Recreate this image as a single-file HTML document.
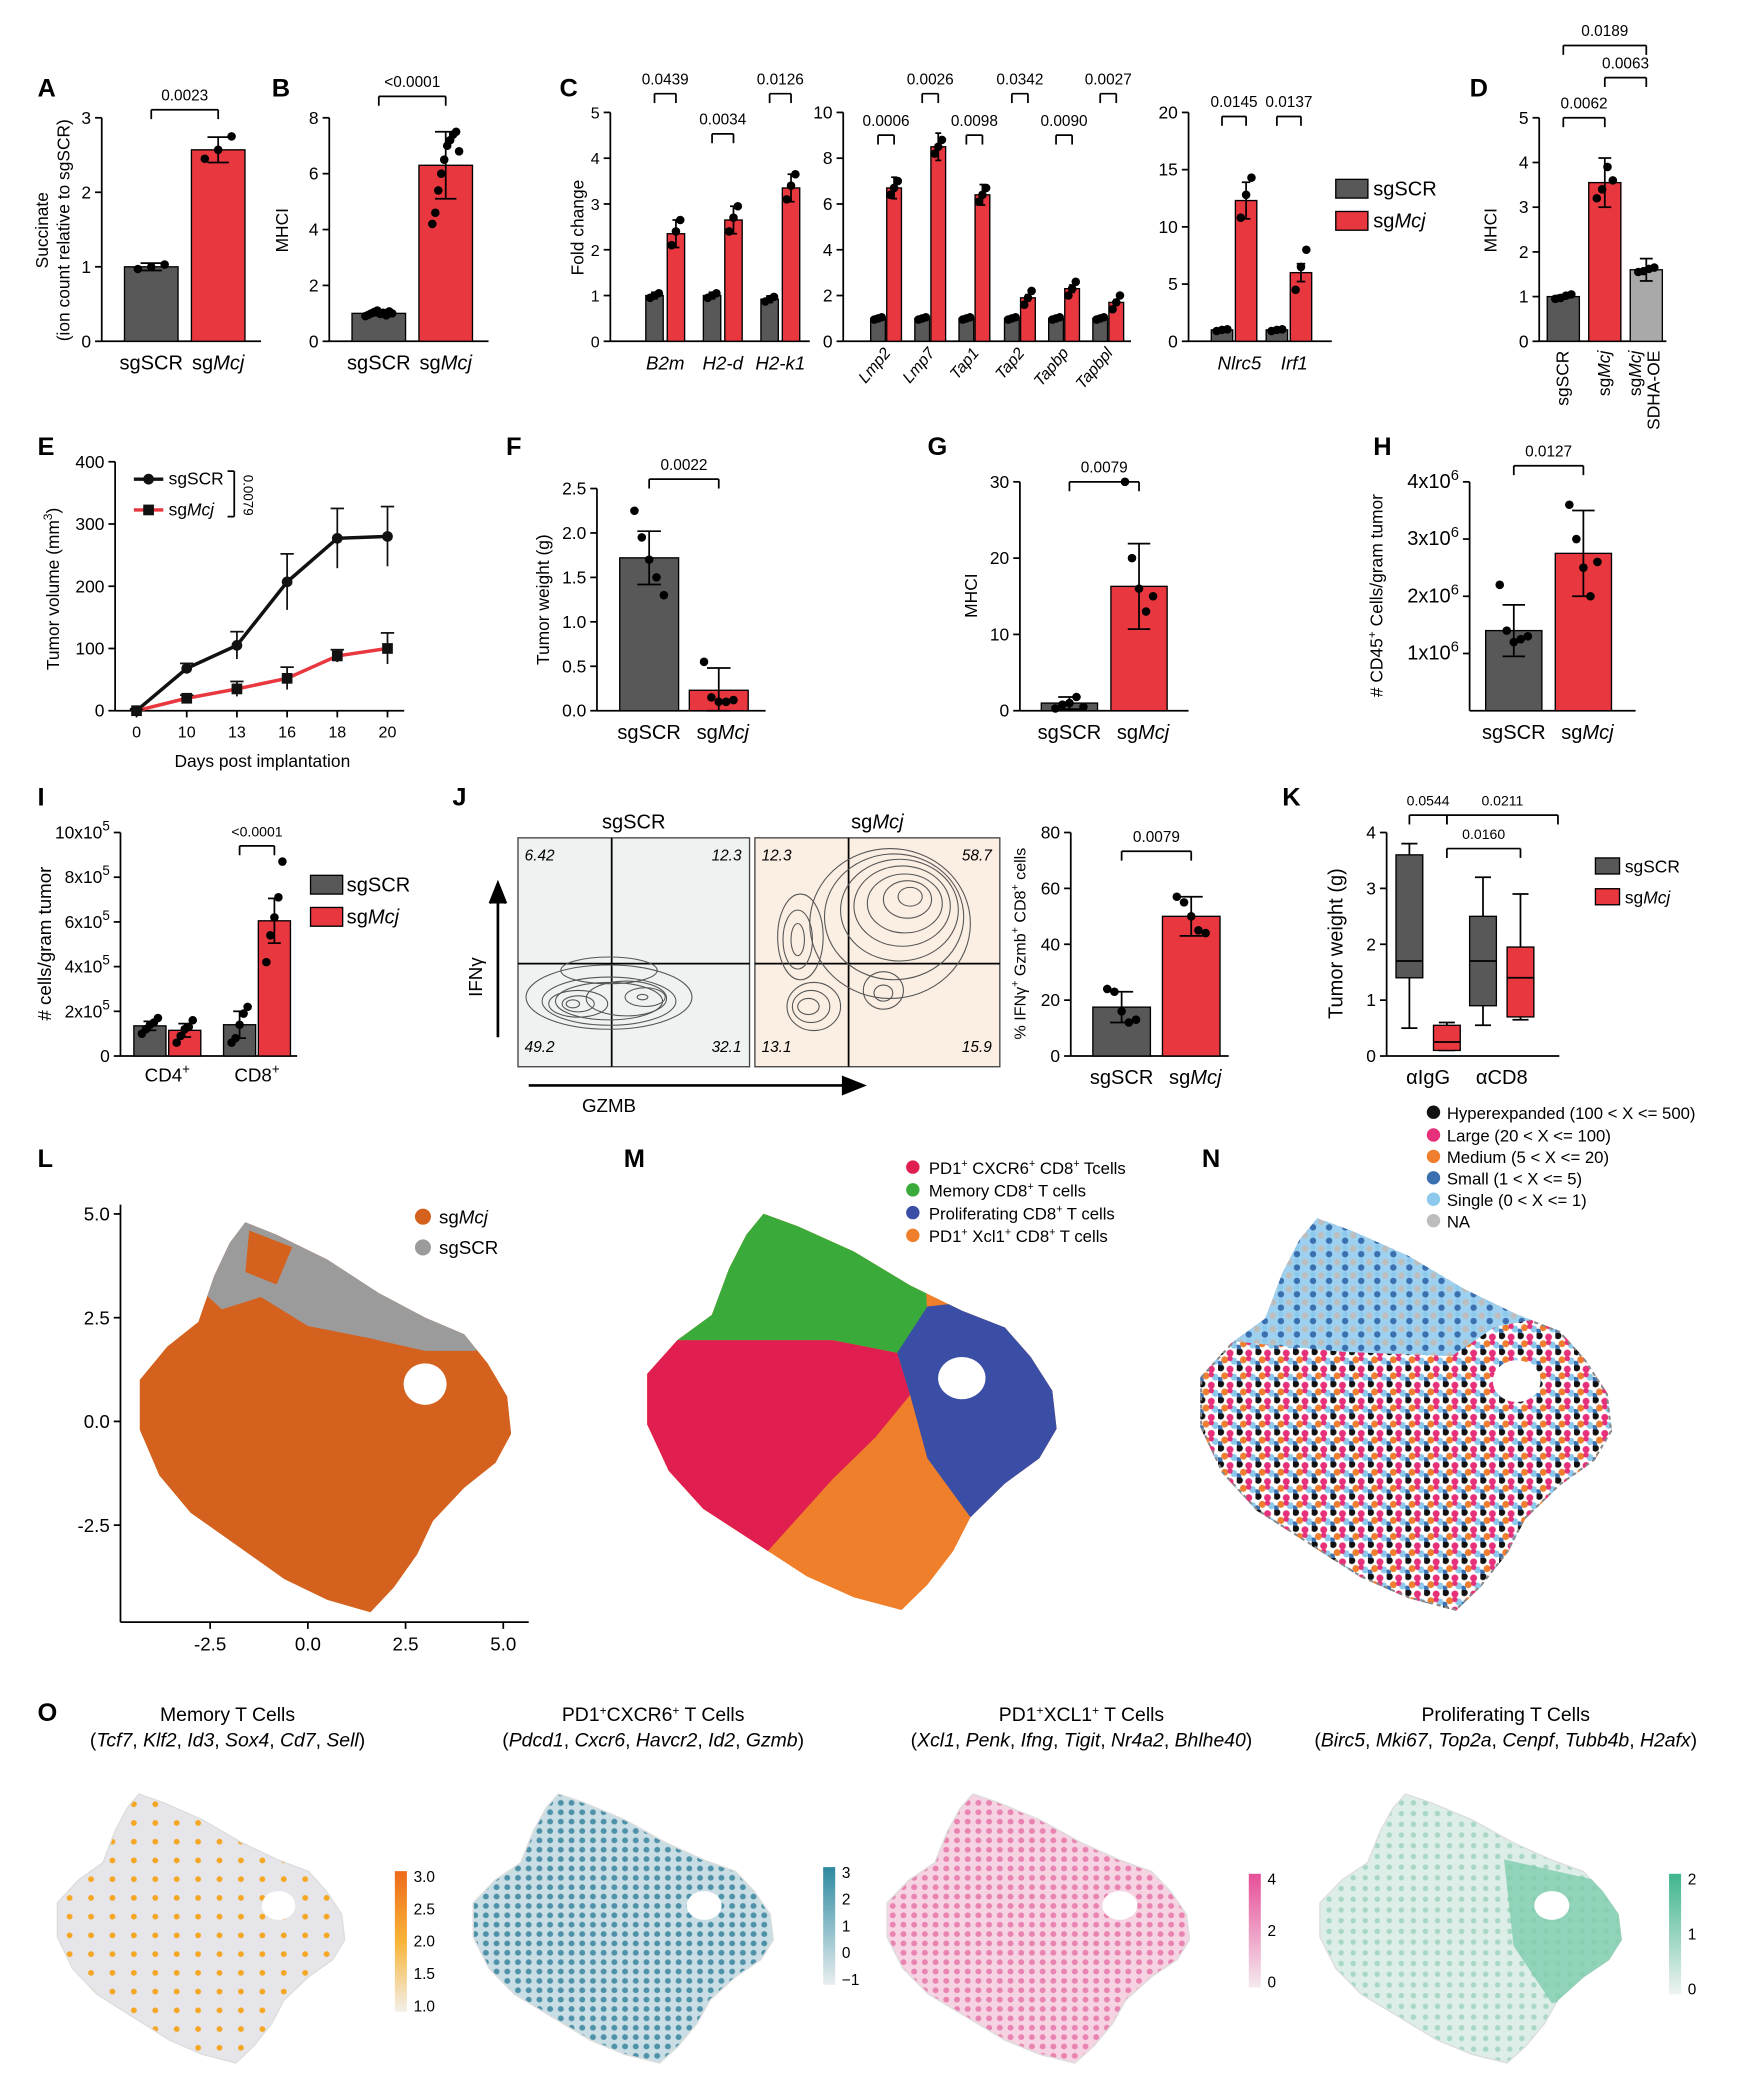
<!DOCTYPE html>
<html><head><meta charset="utf-8"><style>
html,body{margin:0;padding:0;background:#fff}
svg{display:block;font-family:"Liberation Sans",Arial,sans-serif}
</style></head><body>
<svg id="fig" width="1740" height="2100" viewBox="0 0 1300 1569" xmlns="http://www.w3.org/2000/svg">
<defs>
<pattern id="pN" width="14" height="12" patternUnits="userSpaceOnUse">
<circle cx="2" cy="2" r="2.6" fill="#111"/><circle cx="9" cy="3" r="2.6" fill="#e6307a"/><circle cx="5" cy="8" r="2.6" fill="#ef7e2e"/><circle cx="12" cy="9" r="2.6" fill="#8cc9ec"/><circle cx="1" cy="11" r="2.4" fill="#3a6fb0"/><circle cx="9" cy="7" r="2" fill="#e6307a"/>
</pattern>
<pattern id="pNtop" width="12" height="10" patternUnits="userSpaceOnUse">
<rect width="12" height="10" fill="#9dd1ef"/><circle cx="3" cy="3" r="2.4" fill="#bdbdbd"/><circle cx="9" cy="7" r="2.4" fill="#3a6fb0"/><circle cx="9" cy="2" r="2" fill="#8cc9ec"/>
</pattern>
<pattern id="pO1" width="16" height="14" patternUnits="userSpaceOnUse"><rect width="16" height="14" fill="#e6e6ea"/><circle cx="4" cy="4" r="2.2" fill="#f5a623"/></pattern>
<pattern id="pO2" width="8" height="7" patternUnits="userSpaceOnUse"><rect width="8" height="7" fill="#c9dde4"/><circle cx="3" cy="3" r="2.2" fill="#4e92a9"/></pattern>
<pattern id="pO3" width="8" height="7" patternUnits="userSpaceOnUse"><rect width="8" height="7" fill="#f6d3e2"/><circle cx="3" cy="3" r="2.2" fill="#e983b1"/></pattern>
<pattern id="pO4" width="9" height="8" patternUnits="userSpaceOnUse"><rect width="9" height="8" fill="#dceee7"/><circle cx="3" cy="3" r="2" fill="#a8d8c4"/></pattern>
<linearGradient id="gO1" x1="0" y1="1" x2="0" y2="0"><stop offset="0" stop-color="#f3efe8"/><stop offset="0.5" stop-color="#f8b437"/><stop offset="1" stop-color="#ee6a1b"/></linearGradient>
<linearGradient id="gO2" x1="0" y1="1" x2="0" y2="0"><stop offset="0" stop-color="#e8eef0"/><stop offset="1" stop-color="#2d8aa0"/></linearGradient>
<linearGradient id="gO3" x1="0" y1="1" x2="0" y2="0"><stop offset="0" stop-color="#f5e9ef"/><stop offset="1" stop-color="#e64f98"/></linearGradient>
<linearGradient id="gO4" x1="0" y1="1" x2="0" y2="0"><stop offset="0" stop-color="#eef3f1"/><stop offset="1" stop-color="#3fb58d"/></linearGradient>
</defs>
<g id="root"></g>
</svg>
<script>
// ---------- DATA ----------
const aCats=['sgSCR','sgMcj'];const aVals=[1.0,2.57];const aErr=[0.05,0.17];const aPts=[[0.97,1.0,1.03],[2.45,2.57,2.75]];
const bCats=['sgSCR','sgMcj'];const bVals=[1.0,6.3];const bErr=[0.08,1.2];const bPts=[[0.9,0.95,1.0,1.05,1.1,0.98,1.02,0.93,1.07,1.0],[4.2,4.6,5.4,6.0,6.5,7.0,7.2,7.4,7.5,6.8]];
const c1Genes=['B2m','H2-d','H2-k1'];const c1Scr=[1.0,1.0,0.92];const c1Mcj=[2.35,2.65,3.35];const c1P=['0.0439','0.0034','0.0126'];
const c2Genes=['Lmp2','Lmp7','Tap1','Tap2','Tapbp','Tapbpl'];const c2Scr=[1.0,1.0,1.0,1.0,1.0,1.0];const c2Mcj=[6.7,8.5,6.4,1.9,2.3,1.7];const c2P=['0.0006','0.0026','0.0098','0.0342','0.0090','0.0027'];
const c3Genes=['Nlrc5','Irf1'];const c3Scr=[1.0,1.0];const c3Mcj=[12.3,6.0];const c3P=['0.0145','0.0137'];
const dVals=[1.0,3.55,1.6];const dErr=[0.03,0.55,0.25];
const eDays=['0','10','13','16','18','20'];const eScr=[0,68,105,207,277,280];const eScrErr=[3,8,22,45,48,48];const eMcj=[0,20,35,52,88,100];const eMcjErr=[2,5,12,18,10,25];
const fVals=[1.72,0.23];const fErr=[0.3,0.25];const fPts=[[2.25,1.95,1.7,1.5,1.3],[0.55,0.15,0.1,0.1,0.12]];
const gVals=[1.0,16.3];const gErr=[0.8,5.6];const gPts=[[0.3,0.8,1.0,1.8,0.5],[30,20,16,13,15]];
const hVals=[1.4,2.75];const hErr=[0.45,0.75];const hPts=[[2.2,1.4,1.2,1.25,1.3],[3.6,3.0,2.5,2.0,2.6]];
const iGroups=['CD4','CD8'];const iScr=[1.35,1.4];const iMcj=[1.15,6.05];const iScrErr=[0.2,0.6];const iMcjErr=[0.3,1.0];
const jVals=[17.5,50];const jErr=[5.5,7];const jPts=[[24,23,16,12,13],[57,55,50,45,44]];
const kGroups=['αIgG','αCD8'];const kScr=[[0.5,1.4,1.7,3.6,3.8],[0.55,0.9,1.7,2.5,3.2]];const kMcj=[[0.1,0.1,0.25,0.55,0.6],[0.65,0.7,1.4,1.95,2.9]];
// ---------- HELPERS ----------
const NS='http://www.w3.org/2000/svg';const root=document.getElementById('root');
function mk(tag,at,parent){const e=document.createElementNS(NS,tag);for(const k in at)e.setAttribute(k,at[k]);(parent||root).appendChild(e);return e;}
function txt(x,y,s,size,name,opt){opt=opt||{};const t=mk('text',{x:x,y:y,'font-size':size,'text-anchor':opt.anchor||'middle',fill:'#000'});if(opt.bold)t.setAttribute('font-weight','bold');if(opt.italic)t.setAttribute('font-style','italic');if(opt.rot!==undefined)t.setAttribute('transform','rotate('+opt.rot+' '+x+' '+y+')');t.innerHTML=s;


return t;}
function line(x1,y1,x2,y2,name,w,c){const l=mk('line',{x1:x1,y1:y1,x2:x2,y2:y2,stroke:c||'#000','stroke-width':w||1.3});


return l;}
function axes(p,name){const ys=v=>p.y0-(v/p.vmax)*(p.y0-p.yt);
line(p.ax,p.y0,p.ax,p.yt,name+'-y-axis');
line(p.ax,p.y0,p.xe,p.y0,name+'-x-axis');
p.ticks.forEach((v,i)=>{line(p.ax-5,ys(v),p.ax,ys(v),name+'-y-tick');txt(p.ax-8,ys(v)+4.5,p.labels?p.labels[i]:String(v),p.fs||13,name+'-y-tick-label',{anchor:'end'});});return ys;}
function bar(ys,cx,w,v,color,err,pts,name){const r=mk('rect',{x:cx-w/2,y:ys(v),width:w,height:ys(0)-ys(v),fill:color,stroke:'#000','stroke-width':1});


if(err){line(cx,ys(v+err),cx,ys(Math.max(0,v-err)),name+'-error-bar');line(cx-w*0.2,ys(v+err),cx+w*0.2,ys(v+err),name+'-error-cap');line(cx-w*0.2,ys(Math.max(0,v-err)),cx+w*0.2,ys(Math.max(0,v-err)),name+'-error-cap');}
if(pts)pts.forEach((pv,i)=>{const n=pts.length;const dx=n>1?(i-(n-1)/2)*(w*0.5/(n-1)):0;const c=mk('circle',{cx:cx+dx,cy:ys(pv),r:3.2,fill:'#000'});

});}
function bracket(x1,x2,y,lab,name,fs){line(x1,y,x2,y,name);line(x1,y,x1,y+7,name+'-tick');line(x2,y,x2,y+7,name+'-tick');txt((x1+x2)/2,y-7,lab,fs||11.5,name+'-p-value');}
const RED='#e8373e',GRAY='#585858',LG='#a9a9a9';
const IT=s=>'<tspan font-style="italic">'+s+'</tspan>';
// ---------- PANEL LETTERS ----------
[['A',28,72],['B',203,72],['C',418,72],['D',1098,72],['E',28,340],['F',378,340],['G',693,340],['H',1026,340],['I',28,602],['J',338,602],['K',958,602],['L',28,872],['M',466,872],['N',898,872],['O',28,1286]].forEach(l=>txt(l[1],l[2],l[0],19,'panel-label-'+l[0].toLowerCase(),{bold:true,anchor:'start'}));
// ---------- A ----------
{const p={ax:76,y0:255,yt:88,xe:195,vmax:3,ticks:[0,1,2,3]};const ys=axes(p,'panel-a');
const cx=[113,163];aCats.forEach((c,i)=>bar(ys,cx[i],40,aVals[i],i?RED:GRAY,aErr[i],aPts[i],'panel-a-bar-'+c.toLowerCase()));
txt(113,276,'sgSCR',15,'panel-a-x-label');txt(163,276,'sg'+IT('Mcj'),15,'panel-a-x-label');
txt(36,172,'Succinate',13,'panel-a-y-title',{rot:-90});txt(52,172,'(ion count relative to sgSCR)',13,'panel-a-y-title',{rot:-90});
bracket(113,163,82,'0.0023','panel-a-bracket');}
// ---------- B ----------
{const p={ax:246,y0:255,yt:88,xe:365,vmax:8,ticks:[0,2,4,6,8]};const ys=axes(p,'panel-b');
const cx=[283,333];bCats.forEach((c,i)=>bar(ys,cx[i],40,bVals[i],i?RED:GRAY,bErr[i],bPts[i],'panel-b-bar-'+c.toLowerCase()));
txt(283,276,'sgSCR',15,'panel-b-x-label');txt(333,276,'sg'+IT('Mcj'),15,'panel-b-x-label');
txt(215,172,'MHCI',13,'panel-b-y-title',{rot:-90});
bracket(283,333,72,'&lt;0.0001','panel-b-bracket');}
// ---------- C1 ----------
{const p={ax:456,y0:255,yt:84,xe:605,vmax:5,ticks:[0,1,2,3,4,5],fs:12};const ys=axes(p,'panel-c1');
const cx=[497,540,583];const py=[70,100,70];
c1Genes.forEach((g,i)=>{bar(ys,cx[i]-8,13,c1Scr[i],GRAY,0.07,[c1Scr[i]-0.05,c1Scr[i],c1Scr[i]+0.05],'panel-c1-bar-scr');bar(ys,cx[i]+8,13,c1Mcj[i],RED,0.3,[c1Mcj[i]-0.25,c1Mcj[i]+0.05,c1Mcj[i]+0.3],'panel-c1-bar-mcj');
txt(cx[i],276,g,14,'panel-c1-x-label',{italic:true});bracket(cx[i]-8,cx[i]+8,py[i],c1P[i],'panel-c1-bracket');});
txt(436,170,'Fold change',13,'panel-c-y-title',{rot:-90});}
// ---------- C2 ----------
{const p={ax:630,y0:255,yt:84,xe:845,vmax:10,ticks:[0,2,4,6,8,10]};const ys=axes(p,'panel-c2');
const cx=[662,695,728,762,795,828];
c2Genes.forEach((g,i)=>{bar(ys,cx[i]-6,11,c2Scr[i],GRAY,0.1,[0.95,1.0,1.05],'panel-c2-bar-scr');bar(ys,cx[i]+6,11,c2Mcj[i],RED,c2Mcj[i]*0.07,[c2Mcj[i]-0.3,c2Mcj[i],c2Mcj[i]+0.3],'panel-c2-bar-mcj');
txt(cx[i]+4,264,g,12,'panel-c2-x-label',{anchor:'end',rot:-50,italic:true});bracket(cx[i]-6,cx[i]+6,i%2?70:101,c2P[i],'panel-c2-bracket');});}
// ---------- C3 ----------
{const p={ax:888,y0:255,yt:84,xe:995,vmax:20,ticks:[0,5,10,15,20]};const ys=axes(p,'panel-c3');
const cx=[922,963];
c3Genes.forEach((g,i)=>{bar(ys,cx[i]-9,16,c3Scr[i],GRAY,0.1,[0.9,1.0,1.05],'panel-c3-bar-scr');bar(ys,cx[i]+9,16,c3Mcj[i],RED,c3Mcj[i]*0.13,[c3Mcj[i]-1.5,c3Mcj[i]+0.5,c3Mcj[i]+2],'panel-c3-bar-mcj');
txt(cx[i]+4,276,g,14,'panel-c3-x-label',{italic:true});bracket(cx[i]-9,cx[i]+9,87,c3P[i],'panel-c3-bracket');});
const l1=mk('rect',{x:998,y:134,width:24,height:14,fill:GRAY,stroke:'#000'});
const l2=mk('rect',{x:998,y:158,width:24,height:14,fill:RED,stroke:'#000'});
txt(1026,146,'sgSCR',15,'panel-c-legend-scr',{anchor:'start'});txt(1026,170,'sg'+IT('Mcj'),15,'panel-c-legend-mcj',{anchor:'start'});}
// ---------- D ----------
{const p={ax:1150,y0:255,yt:88,xe:1245,vmax:5,ticks:[0,1,2,3,4,5]};const ys=axes(p,'panel-d');
const cx=[1168,1199,1230];const cols=[GRAY,RED,LG];
dVals.forEach((v,i)=>bar(ys,cx[i],24,v,cols[i],dErr[i],[v-0.05,v-0.03,v+0.02,v+0.05].map((q,j)=>i==1?[3.2,3.4,3.9,3.6][j]:q),'panel-d-bar-'+i));
txt(1172,262,'sgSCR',13,'panel-d-x-label',{anchor:'end',rot:-90});txt(1203,262,'sg'+IT('Mcj'),13,'panel-d-x-label',{anchor:'end',rot:-90});
txt(1226,262,'sg'+IT('Mcj'),13,'panel-d-x-label',{anchor:'end',rot:-90});txt(1240,262,'SDHA-OE',13,'panel-d-x-label',{anchor:'end',rot:-90});
txt(1118,172,'MHCI',13,'panel-d-y-title',{rot:-90});
bracket(1168,1199,88,'0.0062','panel-d-bracket');bracket(1199,1230,58,'0.0063','panel-d-bracket');bracket(1168,1230,34,'0.0189','panel-d-bracket');}
// ---------- E ----------
{const p={ax:86,y0:531,yt:345,xe:302,vmax:400,ticks:[0,100,200,300,400]};const ys=axes(p,'panel-e');
const xs=i=>102+i*37.5;
eDays.forEach((d,i)=>{line(xs(i),531,xs(i),536,'panel-e-x-tick');txt(xs(i),551,d,12,'panel-e-x-tick-label');});
txt(196,573,'Days post implantation',13,'panel-e-x-title');
txt(44,440,'Tumor volume (mm<tspan dy="-5" font-size="9">3</tspan><tspan dy="5">)</tspan>',13,'panel-e-y-title',{rot:-90});
[[eScr,eScrErr,'#111','scr'],[eMcj,eMcjErr,RED,'mcj']].forEach(s=>{const pl=mk('polyline',{points:s[0].map((v,i)=>xs(i)+','+ys(v)).join(' '),fill:'none',stroke:s[2],'stroke-width':2.6});


s[0].forEach((v,i)=>{line(xs(i),ys(v+s[1][i]),xs(i),ys(Math.max(0,v-s[1][i])),'panel-e-error-bar','1.3','#111');line(xs(i)-5,ys(v+s[1][i]),xs(i)+5,ys(v+s[1][i]),'panel-e-error-cap','1.3','#111');
const m=s[3]=='scr'?mk('circle',{cx:xs(i),cy:ys(v),r:4,fill:'#111'}):mk('rect',{x:xs(i)-4,y:ys(v)-4,width:8,height:8,fill:'#111'});

});});
line(100,358,122,358,'panel-e-legend-line-scr','2.5','#111');mk('circle',{cx:111,cy:358,r:4,fill:'#111'});txt(126,362,'sgSCR',13,'panel-e-legend-scr',{anchor:'start'});
line(100,381,122,381,'panel-e-legend-line-mcj','2.5',RED);mk('rect',{x:107,y:377,width:8,height:8,fill:'#111'});txt(126,385,'sg'+IT('Mcj'),13,'panel-e-legend-mcj',{anchor:'start'});
line(170,352,175,352,'panel-e-legend-bracket');line(175,352,175,386,'panel-e-legend-bracket');line(170,386,175,386,'panel-e-legend-bracket');
txt(182,370,'0.0079',10,'panel-e-p-value',{rot:90});}
// ---------- F ----------
{const p={ax:446,y0:531,yt:365,xe:572,vmax:2.5,ticks:[0,0.5,1,1.5,2,2.5],labels:['0.0','0.5','1.0','1.5','2.0','2.5']};const ys=axes(p,'panel-f');
bar(ys,485,44,fVals[0],GRAY,fErr[0],fPts[0],'panel-f-bar-scr');bar(ys,537,44,fVals[1],RED,fErr[1],fPts[1],'panel-f-bar-mcj');
txt(485,552,'sgSCR',15,'panel-f-x-label');txt(540,552,'sg'+IT('Mcj'),15,'panel-f-x-label');
txt(410,448,'Tumor weight (g)',13,'panel-f-y-title',{rot:-90});bracket(485,537,358,'0.0022','panel-f-bracket');}
// ---------- G ----------
{const p={ax:762,y0:531,yt:360,xe:888,vmax:30,ticks:[0,10,20,30]};const ys=axes(p,'panel-g');
bar(ys,799,42,gVals[0],GRAY,gErr[0],gPts[0],'panel-g-bar-scr');bar(ys,851,42,gVals[1],RED,gErr[1],gPts[1],'panel-g-bar-mcj');
txt(799,552,'sgSCR',15,'panel-g-x-label');txt(854,552,'sg'+IT('Mcj'),15,'panel-g-x-label');
txt(730,445,'MHCI',13,'panel-g-y-title',{rot:-90});bracket(799,851,360,'0.0079','panel-g-bracket');}
// ---------- H ----------
{const L=['1x10<tspan dy="-6" font-size="11">6</tspan>','2x10<tspan dy="-6" font-size="11">6</tspan>','3x10<tspan dy="-6" font-size="11">6</tspan>','4x10<tspan dy="-6" font-size="11">6</tspan>'];
const p={ax:1098,y0:531,yt:360,xe:1222,vmax:4,ticks:[1,2,3,4],labels:L,fs:15};const ys=axes(p,'panel-h');
bar(ys,1131,42,hVals[0],GRAY,hErr[0],hPts[0],'panel-h-bar-scr');bar(ys,1183,42,hVals[1],RED,hErr[1],hPts[1],'panel-h-bar-mcj');
txt(1131,552,'sgSCR',15,'panel-h-x-label');txt(1186,552,'sg'+IT('Mcj'),15,'panel-h-x-label');
txt(1033,445,'# CD45<tspan dy="-5" font-size="9">+</tspan><tspan dy="5"> Cells/gram tumor</tspan>',13,'panel-h-y-title',{rot:-90});bracket(1131,1183,348,'0.0127','panel-h-bracket');}
// ---------- I ----------
{const L=[0,2,4,6,8,10].map(v=>v?v+'x10<tspan dy="-6" font-size="10">5</tspan>':'0');
const p={ax:90,y0:789,yt:622,xe:222,vmax:10,ticks:[0,2,4,6,8,10],labels:L};const ys=axes(p,'panel-i');
const cx=[125,192];
iGroups.forEach((g,i)=>{const sp=i?[0.6,0.8,1.4,1.9,2.2]:[1.0,1.2,1.4,1.5,1.7];const mp=i?[4.2,5.4,6.2,7.1,8.7]:[0.6,0.9,1.2,1.3,1.6];
bar(ys,cx[i]-13,24,iScr[i],GRAY,iScrErr[i],sp,'panel-i-bar-scr');bar(ys,cx[i]+13,24,iMcj[i],RED,iMcjErr[i],mp,'panel-i-bar-mcj');
txt(cx[i],808,g+'<tspan dy="-6" font-size="10">+</tspan>',14,'panel-i-x-label');});
bracket(179,205,632,'&lt;0.0001','panel-i-bracket',10.5);
txt(38,705,'# cells/gram tumor',14,'panel-i-y-title',{rot:-90});
const l1=mk('rect',{x:232,y:654,width:24,height:14,fill:GRAY,stroke:'#000'});
const l2=mk('rect',{x:232,y:678,width:24,height:14,fill:RED,stroke:'#000'});
txt(259,666,'sgSCR',15,'panel-i-legend-scr',{anchor:'start'});txt(259,690,'sg'+IT('Mcj'),15,'panel-i-legend-mcj',{anchor:'start'});}
// ---------- J flow ----------
{const boxes=[[387,173,'#eef2f0','sgSCR',457,['6.42','12.3','49.2','32.1']],[564,183,'#fbeee2','sg'+IT('Mcj'),634,['12.3','58.7','13.1','15.9']]];
boxes.forEach((b,k)=>{const r=mk('rect',{x:b[0],y:626,width:b[1],height:171,fill:b[2],stroke:'#444','stroke-width':1});


line(b[4],626,b[4],797,'panel-j-quadrant-vertical');line(b[0],720,b[0]+b[1],720,'panel-j-quadrant-horizontal');
txt(b[0]+b[1]/2,619,b[3],15,'panel-j-flow-title');
txt(b[0]+5,643,b[5][0],11.5,'panel-j-quadrant-value',{anchor:'start',italic:true});txt(b[0]+b[1]-6,643,b[5][1],11.5,'panel-j-quadrant-value',{anchor:'end',italic:true});
txt(b[0]+5,786,b[5][2],11.5,'panel-j-quadrant-value',{anchor:'start',italic:true});txt(b[0]+b[1]-6,786,b[5][3],11.5,'panel-j-quadrant-value',{anchor:'end',italic:true});});
const cg=mk('g',{fill:'none',stroke:'#555','stroke-width':0.8});
[[455,745,62,24],[455,748,50,18],[455,748,40,14],[432,750,22,10],[432,750,12,6],[468,746,30,13],[482,745,15,7],[455,725,36,10],[428,750,5,3],[480,745,4,2]].forEach(e=>mk('ellipse',{cx:e[0],cy:e[1],rx:e[2],ry:e[3]},cg));
[[665,690,60,56],[668,685,52,47],[672,680,44,38],[674,677,36,30],[676,675,28,22],[678,672,18,14],[680,670,9,7],[598,700,17,32],[596,702,11,22],[596,702,5,12],[608,752,20,18],[606,752,14,12],[604,752,8,6],[660,740,15,14],[660,742,7,6]].forEach(e=>mk('ellipse',{cx:e[0],cy:e[1],rx:e[2],ry:e[3]},cg));
const a1=mk('path',{d:'M372,775 L372,665 M366,675 L372,660 L378,675',stroke:'#000','stroke-width':2,fill:'#000'});
const a2=mk('path',{d:'M395,811 L640,811 M630,805 L645,811 L630,817 Z',stroke:'#000','stroke-width':2,fill:'#000'});
txt(360,730,'IFNγ',14,'panel-j-y-marker',{rot:-90});txt(455,831,'GZMB',14,'panel-j-x-marker');
const p={ax:800,y0:789,yt:622,xe:918,vmax:80,ticks:[0,20,40,60,80]};const ys=axes(p,'panel-j');
bar(ys,838,43,jVals[0],GRAY,jErr[0],jPts[0],'panel-j-bar-scr');bar(ys,890,43,jVals[1],RED,jErr[1],jPts[1],'panel-j-bar-mcj');
txt(838,810,'sgSCR',15,'panel-j-x-label');txt(893,810,'sg'+IT('Mcj'),15,'panel-j-x-label');
txt(766,705,'% IFNγ<tspan dy="-5" font-size="8">+</tspan><tspan dy="5"> Gzmb</tspan><tspan dy="-5" font-size="8">+</tspan><tspan dy="5"> CD8</tspan><tspan dy="-5" font-size="8">+</tspan><tspan dy="5"> cells</tspan>',12,'panel-j-y-title',{rot:-90});
bracket(838,890,636,'0.0079','panel-j-bracket');}
// ---------- K ----------
{const p={ax:1036,y0:789,yt:622,xe:1165,vmax:4,ticks:[0,1,2,3,4]};const ys=axes(p,'panel-k');
const cx=[1067,1122];
kGroups.forEach((g,i)=>{[[kScr[i],GRAY,-14,'scr'],[kMcj[i],RED,14,'mcj']].forEach(s=>{const x=cx[i]+s[2],q=s[0];
line(x,ys(q[0]),x,ys(q[4]),'panel-k-whisker');line(x-6,ys(q[0]),x+6,ys(q[0]),'panel-k-whisker-cap');line(x-6,ys(q[4]),x+6,ys(q[4]),'panel-k-whisker-cap');
const r=mk('rect',{x:x-10,y:ys(q[3]),width:20,height:ys(q[1])-ys(q[3]),fill:s[1],stroke:'#000','stroke-width':1});


line(x-10,ys(q[2]),x+10,ys(q[2]),'panel-k-median');});
txt(cx[i],810,g,15,'panel-k-x-label');});
txt(1003,705,'Tumor weight (g)',15,'panel-k-y-title',{rot:-90});
bracket(1053,1081,609,'0.0544','panel-k-bracket',10.5);bracket(1081,1164,609,'0.0211','panel-k-bracket',10.5);bracket(1081,1136,634,'0.0160','panel-k-bracket',10.5);
const l1=mk('rect',{x:1192,y:641,width:18,height:12,fill:GRAY,stroke:'#000'});
const l2=mk('rect',{x:1192,y:664,width:18,height:12,fill:RED,stroke:'#000'});
txt(1214,652,'sgSCR',13,'panel-k-legend-scr',{anchor:'start'});txt(1214,675,'sg'+IT('Mcj'),13,'panel-k-legend-mcj',{anchor:'start'});}
// ---------- UMAP shapes ----------
const outline=[[-1.6,4.8],[-0.8,4.5],[0.5,3.9],[1.8,3.1],[3,2.5],[4.0,2.1],[4.6,1.4],[5.1,0.6],[5.2,-0.3],[4.8,-1.0],[4.0,-1.6],[3.2,-2.4],[2.8,-3.2],[2.2,-4.0],[1.6,-4.6],[0.5,-4.3],[-0.6,-3.8],[-1.8,-3.0],[-3.0,-2.2],[-3.8,-1.3],[-4.3,-0.2],[-4.3,1.0],[-3.6,1.8],[-2.8,2.4],[-2.4,3.5],[-2.0,4.3]];
function umap(id,x0,y0,sx,sy){const g=mk('g',{});
const P=pts=>pts.map(q=>(x0+q[0]*sx)+','+(y0-q[1]*sy)).join(' ');
const cp=mk('clipPath',{id:'clip-'+id},g);mk('polygon',{points:P(outline)},cp);
const inner=mk('g',{'clip-path':'url(#clip-'+id+')'},g);
return {g:g,inner:inner,P:P,hole:(f)=>mk('ellipse',{cx:x0+3.0*sx,cy:y0-0.9*sy,rx:0.55*sx,ry:0.5*sy,fill:f||'#fff'},g)};}
// L
{const u=umap('panel-l-umap',230,1062,29.2,31);
mk('polygon',{points:u.P(outline),fill:'#d4621e',stroke:'#d4621e','stroke-width':5,'stroke-linejoin':'round'},u.inner);
mk('polygon',{points:u.P([[-3,3.4],[-1.6,5.2],[0.5,4.3],[2,3.5],[4.5,2.6],[4.3,1.7],[3.0,1.7],[1.6,2.0],[0,2.3],[-1.2,3.0],[-2.2,2.7]]),fill:'#9b9b9b'},u.inner);
mk('polygon',{points:u.P([[-1.5,4.6],[-0.4,4.2],[-0.8,3.3],[-1.6,3.6]]),fill:'#d4621e'},u.inner);
u.hole();
line(90,900,90,1212,'panel-l-y-axis');line(90,1212,395,1212,'panel-l-x-axis');
[5,2.5,0,-2.5].forEach(v=>{const y=1062-v*31;line(85,y,90,y,'panel-l-y-tick');txt(82,y+5,v.toFixed(1),14,'panel-l-y-tick-label',{anchor:'end'});});
[-2.5,0,2.5,5].forEach(v=>{const x=230+v*29.2;line(x,1212,x,1217,'panel-l-x-tick');txt(x,1233,v.toFixed(1),14,'panel-l-x-tick-label');});
const c1=mk('circle',{cx:316,cy:909,r:6,fill:'#d4621e'});
const c2=mk('circle',{cx:316,cy:932,r:6,fill:'#9b9b9b'});
txt(328,914,'sg'+IT('Mcj'),14,'panel-l-legend-mcj',{anchor:'start'});txt(328,937,'sgSCR',14,'panel-l-legend-scr',{anchor:'start'});}
// M
{const u=umap('panel-m-umap',622,1058,32.2,31.5);
mk('polygon',{points:u.P(outline),fill:'#ef7f2b',stroke:'#ef7f2b','stroke-width':4,'stroke-linejoin':'round'},u.inner);
mk('polygon',{points:u.P([[-5,1.8],[-5,-2.6],[-1.5,-3.2],[0,-1.5],[1.0,-0.5],[1.8,0.5],[1.5,1.5],[0,1.8]]),fill:'#e11e50'},u.inner);
mk('polygon',{points:u.P([[-5,1.8],[0,1.8],[1.5,1.5],[2.2,2.4],[2.0,6],[-5,6]]),fill:'#3aaa3a'},u.inner);
mk('polygon',{points:u.P([[1.5,1.5],[2.2,2.6],[4,2.8],[6,2],[6,-2],[3.2,-2.4],[2.2,-1.0],[1.8,0.5]]),fill:'#3a4ea6'},u.inner);
u.hole();
[['#e11e50','PD1<tspan dy="-5" font-size="8">+</tspan><tspan dy="5"> CXCR6</tspan><tspan dy="-5" font-size="8">+</tspan><tspan dy="5"> CD8</tspan><tspan dy="-5" font-size="8">+</tspan><tspan dy="5"> Tcells</tspan>',876],['#3aaa3a','Memory CD8<tspan dy="-5" font-size="8">+</tspan><tspan dy="5"> T cells</tspan>',893],['#3a4ea6','Proliferating CD8<tspan dy="-5" font-size="8">+</tspan><tspan dy="5"> T cells</tspan>',910],['#ef7f2b','PD1<tspan dy="-5" font-size="8">+</tspan><tspan dy="5"> Xcl1</tspan><tspan dy="-5" font-size="8">+</tspan><tspan dy="5"> CD8</tspan><tspan dy="-5" font-size="8">+</tspan><tspan dy="5"> T cells</tspan>',927]].forEach((l,i)=>{
const c=mk('circle',{cx:682,cy:l[2]-4,r:5,fill:l[0]});
txt(694,l[2]+1,l[1],12.5,'panel-m-legend-entry',{anchor:'start'});});}
// N
{const u=umap('panel-n-umap',1036,1060,32.4,31.2);
mk('polygon',{points:u.P(outline),fill:'url(#pN)',stroke:'#888','stroke-width':3,'stroke-linejoin':'round','stroke-dasharray':'3 3'},u.inner);
mk('polygon',{points:u.P([[-5,2.0],[-1,1.6],[1.5,1.5],[2.5,2.2],[4.5,2.6],[4.5,6],[-5,6]]),fill:'url(#pNtop)'},u.inner);
u.hole();
[['#111','Hyperexpanded (100 &lt; X &lt;= 500)',835],['#e6307a','Large (20 &lt; X &lt;= 100)',852],['#ef7e2e','Medium (5 &lt; X &lt;= 20)',868],['#3a6fb0','Small (1 &lt; X &lt;= 5)',884],['#8cc9ec','Single (0 &lt; X &lt;= 1)',900],['#bdbdbd','NA',916]].forEach(l=>{
const c=mk('circle',{cx:1071,cy:l[2]-4,r:5,fill:l[0]});
txt(1081,l[2]+1,l[1],12.5,'panel-n-legend-entry',{anchor:'start'});});}
// O
{const cfg=[['memory',140,1443,22.7,21.5,'pO1','gO1',295,1398,1503,['3.0','2.5','2.0','1.5','1.0'],'Memory T Cells','('+[IT('Tcf7'),IT('Klf2'),IT('Id3'),IT('Sox4'),IT('Cd7'),IT('Sell')].join(', ')+')',170],
['pd1-cxcr6',455,1443,23.7,21.5,'pO2','gO2',615,1395,1483,['3','2','1','0','−1'],'PD1<tspan dy="-5" font-size="9">+</tspan><tspan dy="5">CXCR6</tspan><tspan dy="-5" font-size="9">+</tspan><tspan dy="5"> T Cells</tspan>','('+[IT('Pdcd1'),IT('Cxcr6'),IT('Havcr2'),IT('Id2'),IT('Gzmb')].join(', ')+')',488],
['pd1-xcl1',765,1443,23.9,21.5,'pO3','gO3',933,1400,1485,['4','2','0'],'PD1<tspan dy="-5" font-size="9">+</tspan><tspan dy="5">XCL1</tspan><tspan dy="-5" font-size="9">+</tspan><tspan dy="5"> T Cells</tspan>','('+[IT('Xcl1'),IT('Penk'),IT('Ifng'),IT('Tigit'),IT('Nr4a2'),IT('Bhlhe40')].join(', ')+')',808],
['proliferating',1088,1443,23.8,21.5,'pO4','gO4',1247,1400,1490,['2','1','0'],'Proliferating T Cells','('+[IT('Birc5'),IT('Mki67'),IT('Top2a'),IT('Cenpf'),IT('Tubb4b'),IT('H2afx')].join(', ')+')',1125]];
cfg.forEach(c=>{const u=umap('panel-o-umap-'+c[0],c[1],c[2],c[3],c[4]);
mk('polygon',{points:u.P(outline),fill:'url(#'+c[5]+')',stroke:'#ddd','stroke-width':2,'stroke-linejoin':'round'},u.inner);
if(c[0]=='proliferating')mk('polygon',{points:u.P([[1.5,2.5],[5.5,1.5],[5.5,-2],[3,-2.5],[1.8,-0.5]]),fill:'#7fcdae',opacity:0.8},u.inner);
u.hole('#fff');
const r=mk('rect',{x:c[7],y:c[8],width:9,height:c[9]-c[8],fill:'url(#'+c[6]+')'});
c[10].forEach((t,i)=>{const y=c[8]+4+i*(c[9]-c[8]-8)/(c[10].length-1);txt(c[7]+14,y+4,t,11.5,'panel-o-colorbar-tick',{anchor:'start'});});
txt(c[13],1286,c[11],14.5,'panel-o-title-'+c[0]);txt(c[13],1305,c[12],14.5,'panel-o-subtitle-'+c[0]);});}
</script>
</body></html>
